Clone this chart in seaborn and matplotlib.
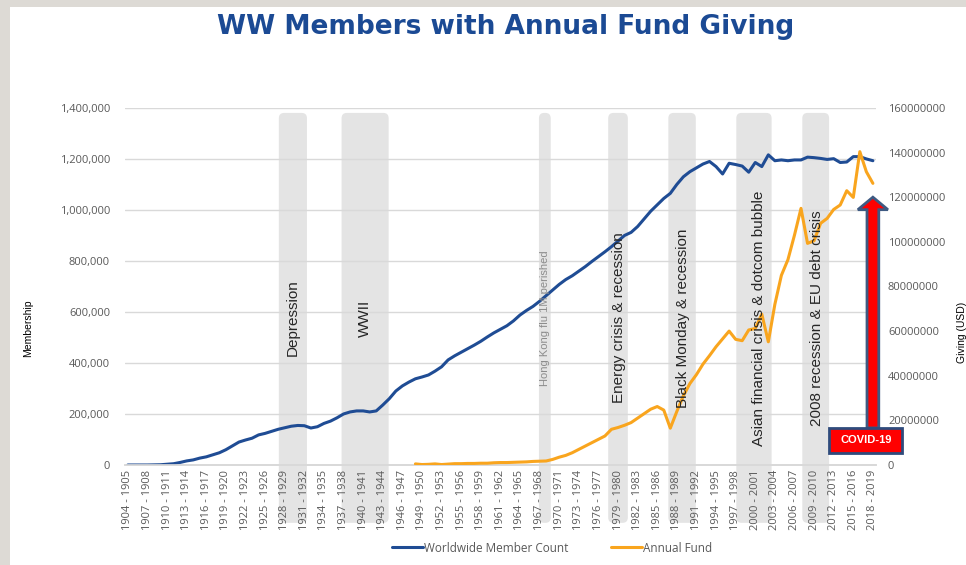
import numpy as np
import pandas as pd
import matplotlib.pyplot as plt
import matplotlib.transforms as mtransforms
import seaborn as sns
from matplotlib.patches import FancyBboxPatch, FancyArrow, Rectangle
from matplotlib.lines import Line2D
from matplotlib.ticker import FuncFormatter

# categories: fiscal years 1904-1905 ... 2018-2019
start_years = list(range(1904, 2019))
categories = [f"{y} - {y + 1}" for y in start_years]

# worldwide member count
members = [
    0, 0, 0, 0, 500, 1000, 3000, 5000, 10000, 16000,                # 1904-1913
    20000, 27000, 32000, 40000, 48000, 60000, 75000, 90000, 98000, 105000,   # 1914-1923
    118000, 124000, 132000, 140000, 146000, 152000, 155000, 154000, 145000, 150000,  # 1924-1933
    163000, 172000, 185000, 200000, 208000, 212000, 212000, 208000, 212000, 235000,  # 1934-1943
    260000, 290000, 310000, 325000, 338000, 345000, 353000, 368000, 385000, 412000,  # 1944-1953
    428000, 442000, 456000, 470000, 485000, 502000, 518000, 532000, 546000, 565000,  # 1954-1963
    588000, 606000, 622000, 642000, 664000, 686000, 708000, 727000, 742000, 760000,  # 1964-1973
    778000, 798000, 817000, 836000, 856000, 878000, 900000, 912000, 935000, 965000,  # 1974-1983
    995000, 1020000, 1045000, 1065000, 1100000, 1130000, 1150000, 1165000, 1180000, 1190000,  # 1984-1993
    1170000, 1141000, 1183000, 1178000, 1172000, 1148000, 1186000, 1170000, 1216000, 1193000,  # 1994-2003
    1196000, 1193000, 1196000, 1196000, 1207000, 1205000, 1202000, 1198000, 1201000, 1186000,  # 2004-2013
    1188000, 1209000, 1209000, 1200000, 1193000,                     # 2014-2018
]

# annual fund giving in USD millions, first reported 1948-1949
fund_millions = [
    0.5, 0.2, 0.3, 0.5, 0.2, 0.4, 0.6, 0.6, 0.7, 0.7,       # 1948-1957
    0.8, 0.8, 1.0, 1.1, 1.1, 1.2, 1.3, 1.4, 1.6, 1.7,       # 1958-1967
    1.8, 2.5, 3.5, 4.3, 5.5, 7.0, 8.5, 10.0, 11.5, 13.0,    # 1968-1977
    16.0, 16.8, 17.8, 19.0, 21.0, 23.0, 25.0, 26.2, 24.6, 16.5,  # 1978-1987
    24.0, 31.0, 36.5, 40.5, 45.2, 49.0, 53.0, 56.5, 60.0, 56.3,  # 1988-1997
    55.7, 60.5, 61.2, 67.6, 55.2, 72.0, 85.0, 92.0, 103.0, 115.0,  # 1998-2007
    99.3, 100.5, 108.3, 110.5, 114.5, 116.5, 122.9, 119.9, 140.4, 131.4,  # 2008-2017
    126.2,                                                   # 2018
]
fund = [np.nan] * (len(start_years) - len(fund_millions)) + [v * 1e6 for v in fund_millions]

# shaded events: (from year, to year, label x year, label)
events = [
    (1927.1, 1931.4, 1929.2, "Depression"),
    (1936.7, 1943.9, 1940.2, "WWII"),
    (1966.9, 1968.7, 1967.8, "Hong Kong flu 1M perished"),
    (1977.5, 1980.5, 1979.2, "Energy crisis & recession"),
    (1986.7, 1990.9, 1988.9, "Black Monday & recession"),
    (1997.1, 2002.5, 2000.6, "Asian financial crisis & dotcom bubble"),
    (2007.2, 2011.3, 2009.4, "2008 recession & EU debt crisis"),
]

blue = "#1F4C94"
orange = "#F9A51E"
band_grey = "#E4E4E4"
tick_grey = "#595959"

df = pd.DataFrame({
    "idx": np.arange(len(categories)),
    "members": members,
    "fund": fund,
})

sns.set_theme(style="white")
plt.rcParams["font.family"] = ["Open Sans", "DejaVu Sans"]

fig = plt.figure(figsize=(9.66, 5.65), dpi=100)
fig.patch.set_facecolor("#DDDAD5")
fig.patches.append(Rectangle((10 / 966, 0), 1, 1 - 7 / 565, transform=fig.transFigure,
                             facecolor="white", edgecolor="none", zorder=-10))

ax = fig.add_axes([0.129, 0.177, 0.778, 0.632])
ax.set_facecolor("none")
ax2 = ax.twinx()

sns.lineplot(data=df, x="idx", y="members", ax=ax, color=blue, lw=2.2, legend=False, zorder=3)
sns.lineplot(data=df, x="idx", y="fund", ax=ax2, color=orange, lw=2.2, legend=False, zorder=3)

ax.set_xlim(-0.5, len(categories) - 0.5)
ax.set_ylim(0, 1400000)
ax2.set_ylim(0, 160000000)

ax.set_xticks(df["idx"][::3])
ax.set_xticklabels(categories[::3], rotation=90, fontsize=8, color=tick_grey)
ax.set_yticks(range(0, 1400001, 200000))
ax.yaxis.set_major_formatter(FuncFormatter(lambda v, p: f"{v:,.0f}"))
ax2.set_yticks(range(0, 160000001, 20000000))
ax2.yaxis.set_major_formatter(FuncFormatter(lambda v, p: f"{v:.0f}"))
ax.tick_params(axis="y", length=0, pad=10.5, labelsize=8, labelcolor=tick_grey)
ax.tick_params(axis="x", length=0, pad=3.5)
ax2.tick_params(axis="y", length=0, pad=8.5, labelsize=8, labelcolor=tick_grey)

ax.grid(axis="y", color="#D9D9D9", lw=1)
ax.grid(axis="x", visible=False)
ax2.grid(False)
ax.set_axisbelow(True)
for a in (ax, ax2):
    for s in ("left", "right", "top"):
        a.spines[s].set_visible(False)
    a.spines["bottom"].set_color("#D9D9D9")
ax.set_xlabel("")
ax.set_ylabel("")
ax2.set_ylabel("")

# event bands (rounded grey columns reaching into the tick labels)
band_tf = mtransforms.blended_transform_factory(ax.transData, ax.transAxes)
for x0, x1, xl, label in events:
    i0, i1 = x0 - 1904, x1 - 1904
    ax.add_patch(FancyBboxPatch((i0, -0.162), i1 - i0, 1.148,
                                boxstyle="round,pad=0,rounding_size=0.8",
                                mutation_aspect=0.0185, transform=band_tf,
                                facecolor=band_grey, edgecolor="none",
                                clip_on=False, zorder=0.3))
    small = label.startswith("Hong Kong")
    ax2.text(xl - 1904, 0.412, label, rotation=90, ha="center", va="center",
             fontsize=8 if small else 11, color="#8C8C8C" if small else "#262626",
             family=["Liberation Sans", "DejaVu Sans"],
             transform=mtransforms.blended_transform_factory(ax2.transData, ax2.transAxes),
             zorder=5)

# COVID-19 arrow and box at the last year
last = len(categories) - 1
ax2.add_patch(FancyArrow(last, 16.6e6, 0, 120e6 - 16.6e6, width=1.8, head_width=4.6,
                         head_length=5.6e6, length_includes_head=True,
                         facecolor="#FF0000", edgecolor="#3E5A82", lw=2,
                         clip_on=False, zorder=6))
ax2.add_patch(Rectangle((last - 6.7, 5.4e6), 11.2, 11.2e6, facecolor="#FF0000",
                        edgecolor="#2F4B7C", lw=2, clip_on=False, zorder=7))
ax2.text(last - 1.1, 11e6, "COVID-19", color="white", fontsize=8, fontweight="bold",
         ha="center", va="center", family=["Liberation Sans", "DejaVu Sans"], zorder=8)

fig.text(506 / 966, 1 - 27 / 565, "WW Members with Annual Fund Giving", ha="center",
         va="center", fontsize=19, fontweight="bold", color="#1B4A94",
         family=["DejaVu Sans"])
fig.text(28 / 966, 1 - 328 / 565, "Membership", rotation=90, ha="center", va="center",
         fontsize=7.5, color="black", family=["Liberation Sans", "DejaVu Sans"])
fig.text(962 / 966, 1 - 332 / 565, "Giving (USD)", rotation=90, ha="center", va="center",
         fontsize=7.5, color="black", family=["Liberation Sans", "DejaVu Sans"])

handles = [Line2D([], [], color=blue, lw=2.2), Line2D([], [], color=orange, lw=2.2)]
leg = fig.legend(handles, ["Worldwide Member Count", "Annual Fund"], loc="center",
                 bbox_to_anchor=(552 / 966, 1 - 548 / 565), ncol=2, frameon=False,
                 fontsize=8.5, handlelength=2.6, handletextpad=0.1, columnspacing=3.6)
for t in leg.get_texts():
    t.set_color(tick_grey)

fig.savefig("out.png", dpi=100, facecolor=fig.get_facecolor())
